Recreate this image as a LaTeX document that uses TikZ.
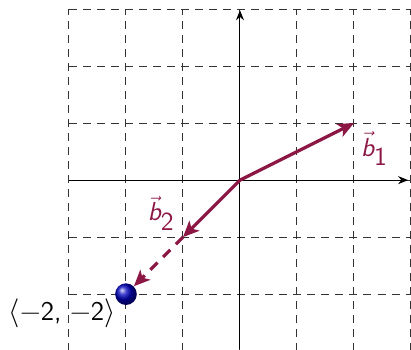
\documentclass[tikz,border=0pt]{standalone}
\usepackage{fontspec}
\usetikzlibrary{arrows.meta,shadings}
\definecolor{vec}{RGB}{140,22,68}
\begin{document}
\begin{tikzpicture}[
  gridline/.style={dash pattern=on 4pt off 3pt, line width=0.5pt, black!80},
  axis/.style={line width=0.5pt, -{Stealth[length=5pt,width=4pt]}},
  vecline/.style={vec, line width=1.6pt, -{Stealth[length=8pt,width=7pt,inset=2pt]}},
  veclabel/.style={vec, font=\fontsize{13}{15}\selectfont\sffamily},
  ptlabel/.style={font=\fontsize{13.5}{16}\selectfont\sffamily}
]
\useasboundingbox (-4.21,-2.965) rectangle (3.0,3.16);
\begin{scope}
\clip (-4.21,-2.965) rectangle (3.0,3.16);
\draw[gridline] (-3,-3) grid (3,3);
\end{scope}
\coordinate (O) at (0,0);
\coordinate (xa) at (2.95,0);
\coordinate (ya) at (0,2.98);
\coordinate (yb) at (0,-2.965);
\draw[axis] (-3,0) -- (xa);
\draw[axis] (yb) -- (ya);
\coordinate (B1) at (2,1);
\coordinate (B2) at (-1,-1);
\node[ball color=blue!75!black, circle, inner sep=0pt, minimum size=0.38cm] (P) at (-2,-2) {};
\draw[vecline] (O) -- (B1);
\draw[vecline] (O) -- (B2);
\draw[vecline, dash pattern=on 5pt off 4pt] (B2) -- (P);
\node[veclabel] (l1) at (2.36,0.55) {$\vec{\mbox{\itshape b}}_{\mbox{\sffamily 1}}$};
\node[veclabel] (l2) at (-1.38,-0.58) {$\vec{\mbox{\itshape b}}_{\mbox{\sffamily 2}}$};
\node[ptlabel] (pl) at (-3.12,-2.33) {$\langle$−2, −2$\rangle$};
\end{tikzpicture}
\end{document}
